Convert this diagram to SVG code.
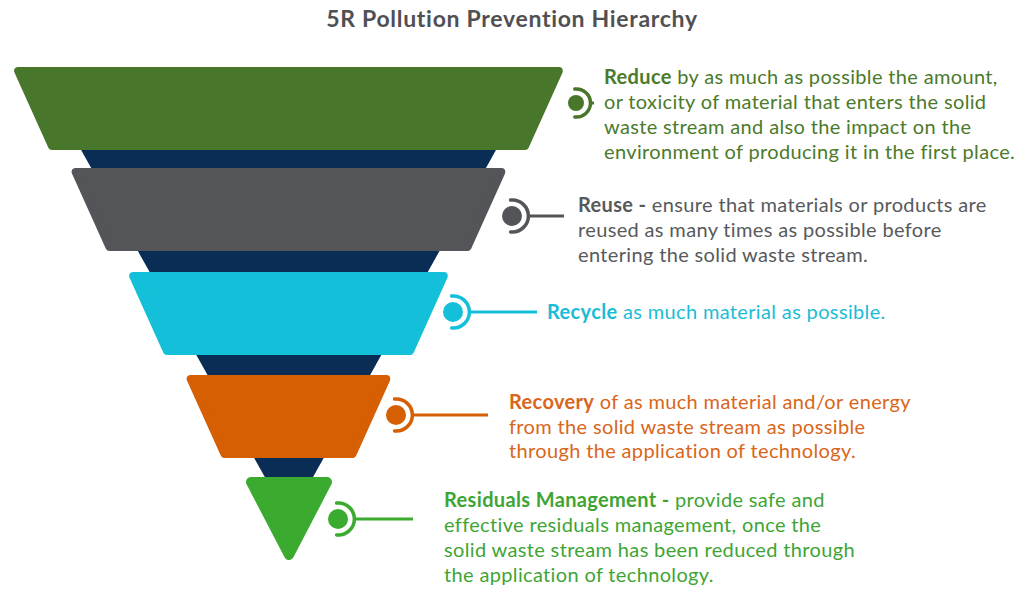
<svg xmlns="http://www.w3.org/2000/svg" width="1024" height="605" viewBox="0 0 1024 605">
<style>
.t{font-family:Lato,"Open Sans",sans-serif;font-size:20px;letter-spacing:0.35px}
.b{font-weight:bold}
.title{font-family:Lato,"Open Sans",sans-serif;font-size:23px;font-weight:bold;fill:#505053;letter-spacing:0.7px}
.lay{stroke-width:8;stroke-linejoin:round}
.arc{fill:none;stroke-width:3.5;stroke-linecap:round}
.ln{stroke-width:3;stroke-linecap:butt}
</style>
<rect width="1024" height="605" fill="#ffffff"/>
<text class="title" x="512" y="27" text-anchor="middle">5R Pollution Prevention Hierarchy</text>

<g id="funnel">
<polygon points="53,100 524,100 289,520" fill="#0a2d55"/>
</g>

<g id="reduce">
<polygon class="lay" points="18.2,71 558.8,71 525,146 52,146" fill="#48762a" stroke="#48762a"/>
<text class="t" fill="#4b7a2b"><tspan x="604" y="84"><tspan class="b">Reduce</tspan> by as much as possible the amount,</tspan><tspan x="604" y="109">or toxicity of material that enters the solid</tspan><tspan x="604" y="134">waste stream and also the impact on the</tspan><tspan x="604" y="159">environment of producing it in the first place.</tspan></text>
</g>

<g id="reuse">
<polygon class="lay" points="75.7,172 501.3,172 467.5,247 109.5,247" fill="#535558" stroke="#535558"/>
<text class="t" fill="#58595b"><tspan x="578" y="212"><tspan class="b">Reuse -</tspan> ensure that materials or products are</tspan><tspan x="578" y="237">reused as many times as possible before</tspan><tspan x="578" y="262">entering the solid waste stream.</tspan></text>
</g>

<g id="recycle">
<polygon class="lay" points="133.2,276 443.8,276 410,351 167,351" fill="#14c0d9" stroke="#14c0d9"/>
<text class="t" fill="#1bbcd6"><tspan x="547" y="319"><tspan class="b">Recycle</tspan> as much material as possible.</tspan></text>
</g>

<g id="recovery">
<polygon class="lay" points="190.7,379 386.3,379 352.5,454 224.5,454" fill="#d55f02" stroke="#d55f02"/>
<text class="t" fill="#d9661a"><tspan x="509" y="409"><tspan class="b">Recovery</tspan> of as much material and/or energy</tspan><tspan x="509" y="434">from the solid waste stream as possible</tspan><tspan x="509" y="458">through the application of technology.</tspan></text>
</g>

<g id="residuals">
<polygon points="251,482 327,482 289,555" fill="#3aab2f" stroke="#3aab2f" stroke-width="10" stroke-linejoin="round"/>
<text class="t" fill="#3ea535"><tspan x="444" y="507"><tspan class="b">Residuals Management -</tspan> provide safe and</tspan><tspan x="444" y="532">effective residuals management, once the</tspan><tspan x="444" y="557">solid waste stream has been reduced through</tspan><tspan x="444" y="582">the application of technology.</tspan></text>
</g>

<g id="connectors">
<g fill="#48762a" stroke="#48762a">
<circle cx="576" cy="103" r="8" stroke="none"/>
<path class="arc" d="M574.8,89.1 A14,14 0 1 1 574.8,116.9"/>
<line class="ln" x1="590" y1="103" x2="594" y2="103"/>
</g>
<g fill="#535558" stroke="#535558">
<circle cx="512" cy="216" r="10" stroke="none"/>
<path class="arc" d="M510.6,200.1 A16,16 0 1 1 510.6,231.9"/>
<line class="ln" x1="528" y1="216" x2="564" y2="216"/>
</g>
<g fill="#14c0d9" stroke="#14c0d9">
<circle cx="453" cy="312" r="10" stroke="none"/>
<path class="arc" d="M451.6,296.1 A16,16 0 1 1 451.6,327.9"/>
<line class="ln" x1="469" y1="312" x2="537" y2="312"/>
</g>
<g fill="#d55f02" stroke="#d55f02">
<circle cx="396" cy="415" r="10" stroke="none"/>
<path class="arc" d="M394.6,399.1 A16,16 0 1 1 394.6,430.9"/>
<line class="ln" x1="412" y1="415" x2="488" y2="415"/>
</g>
<g fill="#3aab2f" stroke="#3aab2f">
<circle cx="338" cy="519" r="10" stroke="none"/>
<path class="arc" d="M336.6,503.1 A16,16 0 1 1 336.6,534.9"/>
<line class="ln" x1="354" y1="519" x2="413" y2="519"/>
</g>
</g>
</svg>
